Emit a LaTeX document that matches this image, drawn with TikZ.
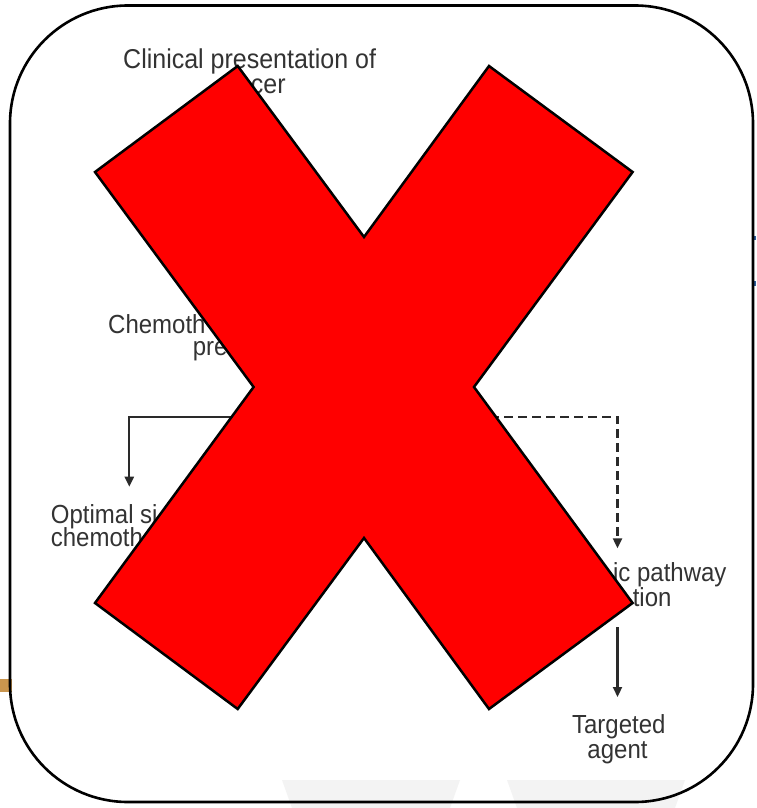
\documentclass[tikz,border=0pt]{standalone}
\usepackage{fontspec}
\usepackage{graphicx}
\setmainfont{Liberation Sans}
\usetikzlibrary{arrows.meta}
\definecolor{txtgray}{HTML}{333333}
\definecolor{linegray}{HTML}{2A2A2A}
\definecolor{xred}{HTML}{FF0000}
\definecolor{tan}{HTML}{C9954E}
\definecolor{ghost}{HTML}{F3F3F3}
\definecolor{edgeblue}{HTML}{2C5C9C}
\newcommand{\tallt}[1]{\scalebox{1}[1.09]{#1}}
\tikzset{
  lbl/.style={inner sep=0pt, text=txtgray, font=\fontsize{24}{28}\selectfont},
  lblbig/.style={lbl, font=\fontsize{25}{29}\selectfont},
  flow/.style={draw=linegray, line width=2.2pt, -{Triangle[length=10pt,width=9pt]}},
  flowdash/.style={flow, dash pattern=on 9pt off 5pt},
  frame/.style={draw=black, line width=2.6pt, rounded corners=118pt},
  bigx/.style={fill=xred, draw=black, line width=2.5pt, line join=miter}
}
\begin{document}
\begin{tikzpicture}[x=1pt,y=-1pt]
\useasboundingbox (0,0) rectangle (756,808);
\fill[white] (0,0) rectangle (756,808);
% stray marks outside the frame
\fill[tan] (0,679) rectangle (12,692);
\fill[edgeblue] (754,236) rectangle (756,240);
\fill[edgeblue] (754,281) rectangle (756,286);
% faint background shapes
\fill[ghost] (282,780) -- (460,780) -- (450,808) -- (292,808) -- cycle;
\fill[ghost] (507,780) -- (685,780) -- (675,808) -- (517,808) -- cycle;
% frame
\draw[frame] (10,5.5) rectangle (753,802);
% text fragments
\node[lblbig, anchor=base west] (clin1) at (123,69) {\tallt{Clinical presentation of}};
\node[lblbig, anchor=base west] (clin2) at (250.7,93.3) {\tallt{cer}};
\node[lbl, anchor=base west] (chemo1) at (108,333) {\tallt{Chemoth}};
\node[lbl, anchor=base west] (chemo2) at (192.7,355.7) {\tallt{pre}};
\node[lbl, anchor=base west] (opt1) at (50.7,523.3) {\tallt{Optimal si}};
\node[lbl, anchor=base west] (opt2) at (50.7,546) {\tallt{chemoth}};
\node[lbl, anchor=base east] (onc1) at (726.7,581.7) {\tallt{ic pathway}};
\node[lbl, anchor=base east] (onc2) at (671.7,606.7) {\tallt{tion}};
\node[lbl, anchor=base] (targ1) at (618.8,733.3) {\tallt{Targeted}};
\node[lbl, anchor=base] (targ2) at (617.5,758) {\tallt{agent}};
% connectors
\coordinate (split) at (364,416.7);
\coordinate (optIn) at (129.3,486.7);
\coordinate (oncIn) at (617.5,548.3);
\coordinate (oncOut) at (617.5,627);
\coordinate (targIn) at (617.5,697);
\draw[flow] (split) -| (optIn);
\draw[flowdash] (split) -| (oncIn);
\draw[flow] (oncOut) -- (targIn);
% the big red X
\draw[bigx] (237.7,66) -- (364,237) -- (489,66) -- (632.6,172) -- (474,387)
  -- (632.6,603) -- (489,709) -- (364,538) -- (237.7,709) -- (95,603)
  -- (253.6,387) -- (95,172) -- cycle;
\end{tikzpicture}
\end{document}
